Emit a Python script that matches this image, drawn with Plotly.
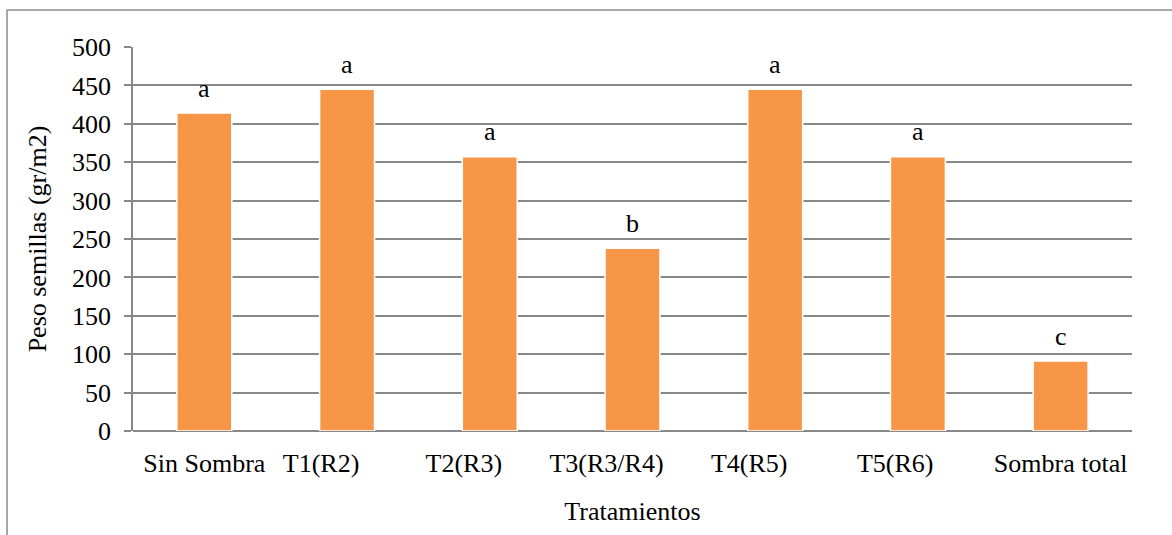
import plotly.graph_objects as go

# Seed weight per treatment and the significance groups from the mean comparison
tratamientos = ["Sin Sombra", "T1(R2)", "T2(R3)", "T3(R3/R4)", "T4(R5)", "T5(R6)", "Sombra total"]
peso_semillas = [414, 445, 357, 238, 445, 357, 91]
grupos = ["a", "a", "a", "b", "a", "a", "c"]

# Category labels as typed in the source sheet (the inner ones carry trailing padding)
NBSP = "\u00a0"
etiquetas = [
    "Sin Sombra",
    "T1(R2)" + NBSP * 8,
    "T2(R3)" + NBSP * 8,
    "T3(R3/R4)" + NBSP * 8,
    "T4(R5)" + NBSP * 8,
    "T5(R6)" + NBSP * 7,
    "Sombra total",
]

FONT = "'Times New Roman', 'Liberation Serif', 'DejaVu Serif', serif"
GRID = "#888888"

fig = go.Figure(
    go.Bar(
        x=tratamientos,
        y=peso_semillas,
        marker=dict(color="#F79646", line=dict(color="#FFFFFF", width=1.5)),
        width=0.385,
        hoverinfo="x+y",
    )
)

# Significance letters above each bar
for t, v, g in zip(tratamientos, peso_semillas, grupos):
    fig.add_annotation(
        x=t, y=v, text=g, showarrow=False, yanchor="middle", yshift=25,
        font=dict(family=FONT, size=26, color="#000000"),
    )

# Thin frame around the whole chart
fig.add_shape(
    type="rect", xref="paper", yref="paper",
    x0=-0.1261, x1=1.06, y0=-0.32, y1=1.0964,
    line=dict(color="#8c8c8c", width=1.5), fillcolor="rgba(0,0,0,0)", layer="below",
)

fig.update_layout(
    width=1172, height=535,
    margin=dict(l=133, r=40, t=47, b=104),
    paper_bgcolor="white", plot_bgcolor="white",
    font=dict(family=FONT, size=26, color="#000000"),
    showlegend=False,
    xaxis=dict(
        title=dict(text="Tratamientos", font=dict(family=FONT, size=26), standoff=24),
        showgrid=False, showline=False, ticks="", zeroline=False,
        tickmode="array", tickvals=tratamientos, ticktext=etiquetas,
        tickangle=0, automargin=False,
        tickfont=dict(family=FONT, size=26), ticklabelstandoff=14,
    ),
    yaxis=dict(
        title=dict(text="Peso semillas (gr/m2)", font=dict(family=FONT, size=26), standoff=18),
        range=[0, 500], dtick=50, tick0=0, automargin=False,
        showgrid=True, gridcolor=GRID, gridwidth=1.5,
        showline=True, linecolor=GRID, linewidth=1.5,
        ticks="outside", ticklen=7, tickcolor=GRID, tickwidth=1.5,
        zeroline=True, zerolinecolor=GRID, zerolinewidth=1.5,
        tickfont=dict(family=FONT, size=26), ticklabelstandoff=8,
    ),
)

fig.write_html("out.html")
